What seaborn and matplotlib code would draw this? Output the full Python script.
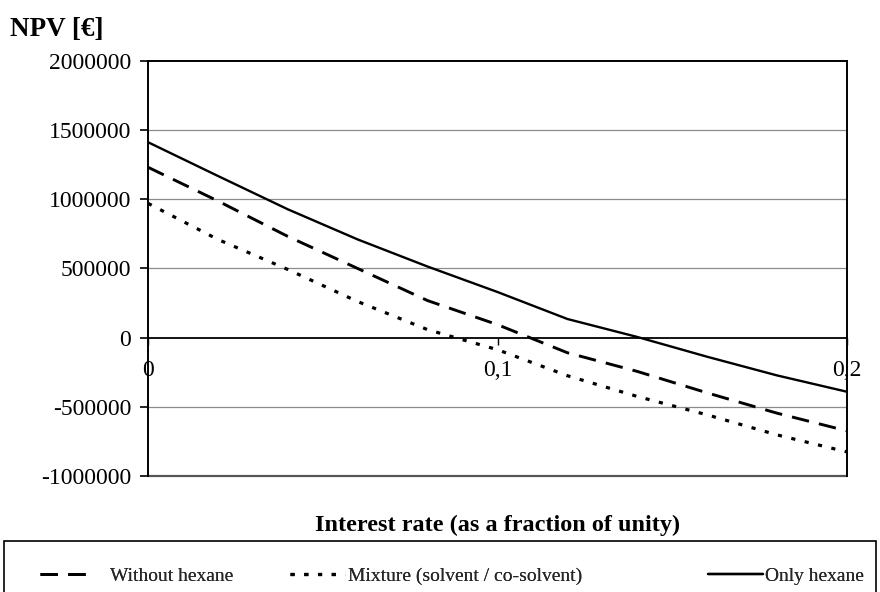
import matplotlib
matplotlib.use("Agg")
import matplotlib.pyplot as plt
import seaborn as sns
import pandas as pd
from matplotlib.ticker import FuncFormatter
from matplotlib.patches import Rectangle

# Interest rate (fraction of unity) and NPV of each process option
rates = [0.0, 0.02, 0.04, 0.06, 0.08, 0.10, 0.12, 0.14, 0.16, 0.18, 0.20]
npv_without_hexane = [1232000, 988000, 732000, 500000, 268000, 94000,
                      -109000, -244000, -399000, -546000, -674000]
npv_mixture = [971000, 710000, 493000, 261000, 58000, -87000,
               -275000, -425000, -558000, -703000, -826000]
npv_only_hexane = [1413000, 1169000, 928000, 710000, 514000, 330000,
                   135000, 5000, -138000, -273000, -391000]

series_names = ["Without hexane", "Mixture (solvent / co-solvent)", "Only hexane"]
y_ticks = [-1000000, -500000, 0, 500000, 1000000, 1500000, 2000000]
x_ticks = [0.0, 0.1, 0.2]
x_tick_labels = ["0", "0,1", "0,2"]

df = pd.DataFrame({
    "rate": rates * 3,
    "npv": npv_without_hexane + npv_mixture + npv_only_hexane,
    "series": sum([[n] * len(rates) for n in series_names], []),
})

sns.set_theme(style="white")
plt.rcParams["font.family"] = ["Liberation Serif", "DejaVu Serif"]

fig = plt.figure(figsize=(8.8, 5.92), dpi=100)
ax = fig.add_axes([148 / 880, 1 - 476 / 592, 699 / 880, 415 / 592])

styles = {
    "Without hexane": (0, (6, 3.5)),
    "Mixture (solvent / co-solvent)": (0, (1.3, 3)),
    "Only hexane": "-",
}
widths = {"Without hexane": 2.1, "Mixture (solvent / co-solvent)": 2.3, "Only hexane": 1.7}

for name in series_names:
    sub = df[df["series"] == name]
    sns.lineplot(data=sub, x="rate", y="npv", ax=ax, color="black",
                 linestyle=styles[name], linewidth=widths[name], label=name,
                 legend=False)

ax.set_xlim(0, 0.2)
ax.set_ylim(-1000000, 2000000)
ax.set_yticks(y_ticks)
ax.yaxis.set_major_formatter(FuncFormatter(lambda v, p: f"{int(v)}"))
ax.set_xticks(x_ticks)
ax.set_xticklabels(x_tick_labels)

# horizontal gridlines (gray) and frame lines
for v in y_ticks[1:-1]:
    if v != 0:
        ax.axhline(v, color="#8c8c8c", linewidth=0.9, zorder=0)
ax.axhline(-1000000, color="#555555", linewidth=1.6, zorder=1, clip_on=False)

for side in ["top", "right", "left"]:
    ax.spines[side].set_color("black")
    ax.spines[side].set_linewidth(1.4)
ax.spines["bottom"].set_position(("data", 0))
ax.spines["bottom"].set_color("black")
ax.spines["bottom"].set_linewidth(1.3)

ax.tick_params(axis="y", which="major", left=True, length=6, width=1.2,
               color="black", labelsize=17, pad=6)
ax.tick_params(axis="x", which="major", bottom=True, direction="out",
               length=5, width=1.0, color="black", labelsize=17, pad=11)
for lbl in ax.get_xticklabels() + ax.get_yticklabels():
    lbl.set_color("black")

ax.set_xlabel("")
ax.set_ylabel("")

fig.text(10 / 880, 1 - 29 / 592, "NPV [€]", fontsize=19.5, fontweight="bold",
         ha="left", va="center", color="black")
fig.text(498 / 880, 1 - 525 / 592, "Interest rate (as a fraction of unity)",
         fontsize=17.5, fontweight="bold", ha="center", va="center", color="black")

# legend: framed strip along the bottom with three entries
fig.patches.append(Rectangle((4 / 880, -0.01), 872 / 880, 51 / 592 + 0.01,
                             transform=fig.transFigure, fill=False,
                             edgecolor="black", linewidth=1.2))
handles, labels = ax.get_legend_handles_labels()
entry_x = {"Without hexane": 40, "Mixture (solvent / co-solvent)": 290,
           "Only hexane": 708}
entry_pad = {"Without hexane": 0.75, "Mixture (solvent / co-solvent)": 0.15,
             "Only hexane": 0.1}
for h, lab in zip(handles, labels):
    lg = fig.legend([h], [lab], loc="center left",
                    bbox_to_anchor=(entry_x[lab] / 880, 1 - 576 / 592),
                    frameon=False, fontsize=14, handlelength=2.85,
                    handletextpad=entry_pad[lab], borderaxespad=0.0,
                    borderpad=0.0)
    fig.add_artist(lg)

fig.savefig("out.png", dpi=100)
